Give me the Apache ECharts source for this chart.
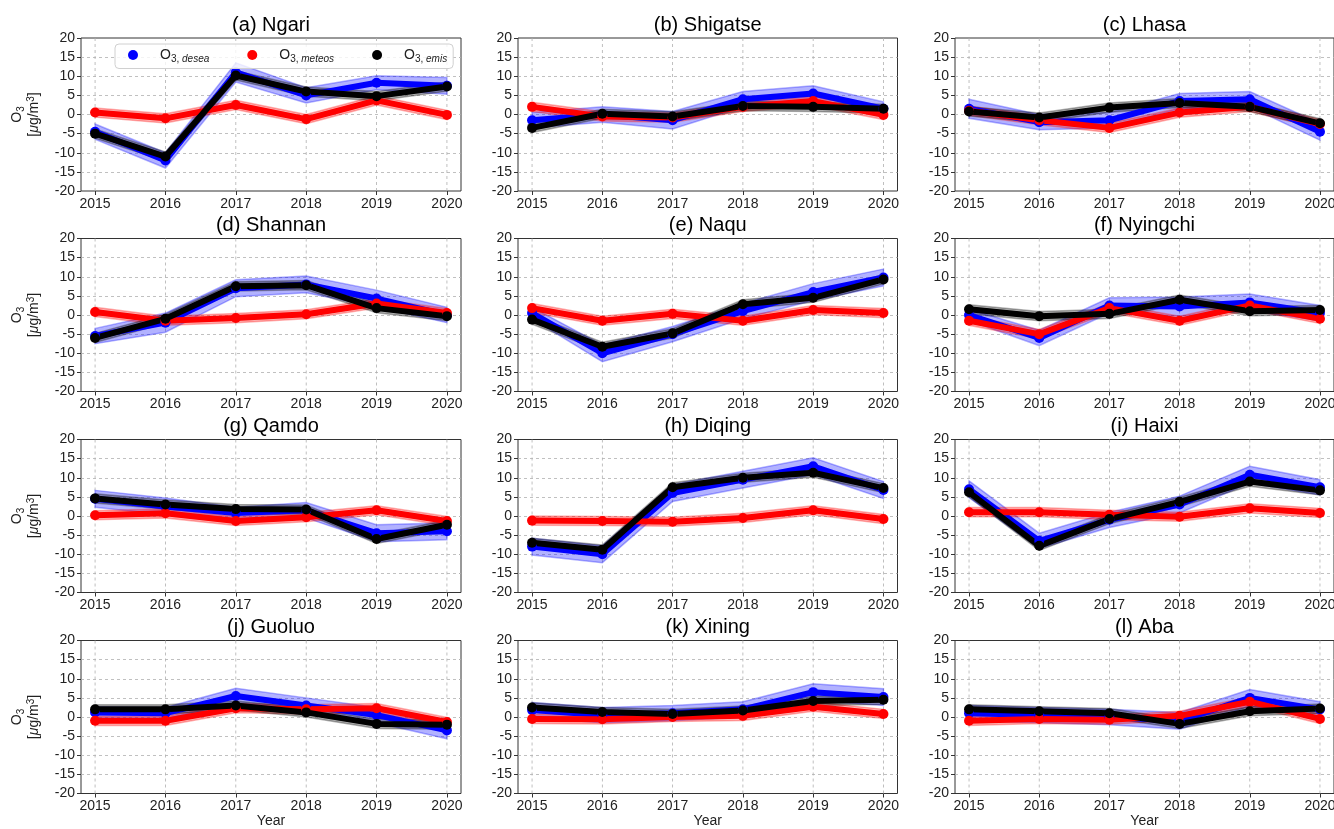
<!DOCTYPE html>
<html><head><meta charset="utf-8">
<script src="https://cdn.jsdelivr.net/npm/echarts@6/dist/echarts.min.js"></script>
<style>html,body{margin:0;padding:0;background:#fff}#c{width:1334px;height:829px}</style>
</head><body><div id="c"></div>
<script>
const YEARS = [2015, 2016, 2017, 2018, 2019, 2020];
const Y_MIN = -20, Y_MAX = 20, Y_STEP = 5;
const TITLES = ['(a) Ngari','(b) Shigatse','(c) Lhasa','(d) Shannan','(e) Naqu','(f) Nyingchi',
                '(g) Qamdo','(h) Diqing','(i) Haixi','(j) Guoluo','(k) Xining','(l) Aba'];
const SERIES_NAMES = ['desea', 'meteos', 'emis'];

// O3,desea (blue)
const DESEA = [
  [-4.5, -12, 11, 5, 8.3, 7.5],
  [-1.5, 0, -1.5, 4, 5.5, 1.5],
  [1.5, -2, -1.5, 3.5, 4, -4.5],
  [-5.5, -2, 7, 8, 4.3, 0],
  [0.5, -10, -5, 1, 6, 9.8],
  [0, -6, 2.5, 2.2, 3.3, 0.5],
  [4.5, 2.5, 0.8, 1.5, -4.5, -4],
  [-8, -10, 6, 9.5, 13, 6.8],
  [7, -6.5, -1, 3, 10.8, 7.5],
  [1.2, 1, 5.5, 3, 0.5, -3.5],
  [1.8, 0.5, 1, 2, 6.5, 5.2],
  [1, 0.5, 0, -1, 5, 2]
];
// O3,meteos (red)
const METEOS = [
  [0.5, -1, 2.5, -1.2, 3.7, -0.1],
  [2, -0.5, -0.8, 2, 3.5, -0.1],
  [1, -1.5, -3.5, 0.5, 2, -2.5],
  [0.8, -1.5, -0.8, 0.2, 3, 0.5],
  [1.8, -1.5, 0.3, -1.5, 1.3, 0.5],
  [-1.5, -5, 1.8, -1.5, 2.5, -1],
  [0.2, 0.7, -1.3, -0.3, 1.5, -1.3],
  [-1.2, -1.3, -1.5, -0.5, 1.5, -0.8],
  [1, 1, 0.3, -0.2, 2, 0.8],
  [-1, -1, 2.3, 2, 2.3, -1.3],
  [-0.5, -0.6, 0, 0.3, 2.7, 0.8],
  [-1, -0.5, -0.7, 0.3, 4, -0.5]
];
// O3,emis (black)
const EMIS = [
  [-5, -11, 10.2, 6, 4.8, 7.3],
  [-3.5, 0.2, -0.5, 2.2, 2, 1.5],
  [0.8, -0.8, 1.8, 3, 2, -2.3],
  [-6, -1, 7.5, 7.8, 1.8, -0.3],
  [-1.2, -8.3, -4.8, 2.8, 4.5, 9.3],
  [1.5, -0.3, 0.3, 4, 1, 1.3],
  [4.6, 3, 1.8, 1.7, -6, -2.3],
  [-7, -8.8, 7.5, 10, 11.3, 7.3],
  [6.2, -7.8, -0.8, 3.7, 9, 6.7],
  [2, 2, 3, 1.2, -1.8, -2],
  [2.5, 1.3, 0.8, 1.7, 4.2, 4.5],
  [2, 1.5, 1, -1.8, 1.5, 2.2]
];
// half-widths of the shaded bands
const DESEA_ERR = [
  [2, 2, 2.5, 2, 1.8, 2.2],
  [2, 2, 2.3, 2, 2, 1.8],
  [2.5, 2, 2, 2, 2, 2.2],
  [2, 2.5, 2.2, 2.2, 2.2, 2],
  [1.5, 2.2, 2, 2, 2.2, 2.2],
  [1.5, 2, 2, 2.5, 2.2, 2],
  [2.2, 2.2, 1.5, 2, 2.2, 2.2],
  [2.2, 2.2, 2.2, 2.2, 2.2, 2.2],
  [2.2, 2, 2, 2.2, 2.2, 2],
  [1.5, 1.5, 2, 2, 2, 2.2],
  [2, 2, 2, 2, 2.2, 2.2],
  [2, 2, 2, 2.2, 2.2, 2]
];
const METEOS_ERR = [
  [1.2, 1.2, 1.2, 1.2, 1.2, 1.2],
  [1.2, 1.2, 1.2, 1.2, 1.2, 1.2],
  [1.2, 1.2, 1.2, 1.2, 1.2, 1.2],
  [1.2, 1.2, 1.2, 1.2, 1.2, 1.2],
  [1.2, 1.2, 1.2, 1.2, 1.2, 1.2],
  [1.2, 1.2, 1.2, 1.2, 1.2, 1.2],
  [1.2, 1.2, 1.2, 1.2, 1.2, 1.2],
  [1.2, 1.2, 1.2, 1.2, 1.2, 1.2],
  [1.2, 1.2, 1.2, 1.2, 1.2, 1.2],
  [1.2, 1.2, 1.2, 1.2, 1.2, 1.2],
  [1.2, 1.2, 1.2, 1.2, 1.2, 1.2],
  [1.2, 1.2, 1.2, 1.2, 1.2, 1.2]
];
const EMIS_ERR = [
  [1.2, 1.2, 1.2, 1.2, 1.2, 1.2],
  [1.2, 1.2, 1.2, 1.2, 1.2, 1.2],
  [1.2, 1.2, 1.2, 1.2, 1.2, 1.2],
  [1.2, 1.2, 1.2, 1.2, 1.2, 1.2],
  [1.2, 1.2, 1.2, 1.2, 1.2, 1.2],
  [1.2, 1.2, 1.2, 1.2, 1.2, 1.2],
  [1.2, 1.2, 1.2, 1.2, 1.2, 1.2],
  [1.2, 1.2, 1.2, 1.2, 1.2, 1.2],
  [1.2, 1.2, 1.2, 1.2, 1.2, 1.2],
  [1.2, 1.2, 1.2, 1.2, 1.2, 1.2],
  [1.2, 1.2, 1.2, 1.2, 1.2, 1.2],
  [1.2, 1.2, 1.2, 1.2, 1.2, 1.2]
];

const FONT = '"Liberation Sans", Arial, Helvetica, sans-serif';
const COL_LEFT = [81, 518, 955];
const COL_W = [380, 379.5, 379];
const ROW_TOP = [38, 238.5, 439.5, 640.5];
const ROW_H = 153;
const COLORS = ['#0000ff', '#ff0000', '#000000'];
const BAND_FILL = ['rgba(0,0,255,0.3)', 'rgba(255,0,0,0.3)', 'rgba(0,0,0,0.3)'];
const BAND_EDGE = ['rgba(0,0,255,0.3)', 'rgba(255,0,0,0.3)', 'rgba(0,0,0,0.3)'];
const GRID_LINE = {color: '#b0b0b0', width: 0.8, dash: [3, 3]};

const chart = echarts.init(document.getElementById('c'), null, {renderer: 'canvas'});

const grids = [], xAxes = [], yAxes = [], titles = [], series = [];
const VALUES = [DESEA, METEOS, EMIS];
const ERRS = [DESEA_ERR, METEOS_ERR, EMIS_ERR];

function bandRenderer(k) {
  return function (params, api) {
    if (params.dataIndexInside !== 0) return null;
    const n = params.dataInsideLength || YEARS.length;
    const up = [], lo = [];
    for (let j = 0; j < n; j++) {
      up.push(api.coord([api.value(0, j), api.value(2, j)]));
      lo.push(api.coord([api.value(0, j), api.value(1, j)]));
    }
    return {
      type: 'polygon',
      shape: {points: up.concat(lo.reverse())},
      style: {fill: BAND_FILL[k], stroke: BAND_EDGE[k], lineWidth: 1.5}
    };
  };
}
function vGridRenderer(params, api) {
  const x = api.value(0);
  const p1 = api.coord([x, Y_MIN]);
  const p2 = api.coord([x, Y_MAX]);
  return {
    type: 'line',
    shape: {x1: p1[0], y1: p1[1], x2: p2[0], y2: p2[1]},
    style: {stroke: GRID_LINE.color, lineWidth: GRID_LINE.width, lineDash: GRID_LINE.dash}
  };
}

const Y_NAME = '{o|O}{sub|3}\n{t|[}{mu|μ}{t|g/m}{sup|3}{t|]}';
const Y_NAME_RICH = {
  o: {fontSize: 14, lineHeight: 17, fontFamily: FONT, color: '#222'},
  t: {fontSize: 14, lineHeight: 17, fontFamily: FONT, color: '#222'},
  mu: {fontSize: 14, lineHeight: 17, fontStyle: 'italic', fontFamily: FONT, color: '#222'},
  sub: {fontSize: 10, lineHeight: 10, verticalAlign: 'bottom', fontFamily: FONT, color: '#222'},
  sup: {fontSize: 10, lineHeight: 10, verticalAlign: 'top', fontFamily: FONT, color: '#222'}
};

for (let i = 0; i < 12; i++) {
  const r = Math.floor(i / 3), c = i % 3;
  grids.push({
    left: COL_LEFT[c], top: ROW_TOP[r], width: COL_W[c], height: ROW_H,
    show: true, borderColor: '#333', borderWidth: 1, backgroundColor: 'transparent',
    containLabel: false, outerBoundsMode: 'none'
  });
  xAxes.push({
    type: 'value', gridIndex: i, min: 2014.8, max: 2020.2, position: 'bottom',
    axisLine: {show: false, onZero: false},
    axisTick: {show: true, customValues: YEARS, length: 4, lineStyle: {color: '#333'}},
    axisLabel: {customValues: YEARS, fontSize: 14, color: '#222', margin: 6, fontFamily: FONT,
                formatter: v => String(v)},
    splitLine: {show: false},
    name: r === 3 ? 'Year' : '', nameLocation: 'middle', nameGap: 20,
    nameTextStyle: {fontSize: 14, color: '#222', fontFamily: FONT}
  });
  yAxes.push({
    type: 'value', gridIndex: i, min: Y_MIN, max: Y_MAX, interval: Y_STEP, position: 'left',
    axisLine: {show: false, onZero: false},
    axisTick: {show: true, length: 4, lineStyle: {color: '#333'}},
    axisLabel: {fontSize: 14, color: '#222', margin: 6, fontFamily: FONT},
    splitLine: {show: true, showMinLine: false, showMaxLine: false,
                lineStyle: {color: GRID_LINE.color, type: GRID_LINE.dash, width: GRID_LINE.width}},
    name: c === 0 ? Y_NAME : '', nameLocation: 'middle', nameGap: 38, nameRotate: 90,
    nameTextStyle: {fontSize: 14, color: '#222', fontFamily: FONT, rich: Y_NAME_RICH}
  });
  titles.push({
    text: TITLES[i], left: COL_LEFT[c] + COL_W[c] / 2, top: ROW_TOP[r] - 23, textAlign: 'center',
    padding: 0,
    textStyle: {fontSize: 20, fontWeight: 'normal', color: '#000', fontFamily: FONT}
  });
  series.push({
    type: 'custom', name: 'vgrid', xAxisIndex: i, yAxisIndex: i, z: 1, silent: true,
    renderItem: vGridRenderer, data: YEARS.map(x => [x])
  });
  for (let k = 0; k < 3; k++) {
    series.push({
      type: 'custom', name: SERIES_NAMES[k] + '_band', xAxisIndex: i, yAxisIndex: i, z: 2,
      renderItem: bandRenderer(k), clip: true, silent: true,
      data: YEARS.map((x, j) => [x, VALUES[k][i][j] - ERRS[k][i][j], VALUES[k][i][j] + ERRS[k][i][j]])
    });
  }
}
for (let i = 0; i < 12; i++) {
  for (let k = 0; k < 3; k++) {
    series.push({
      type: 'line', name: SERIES_NAMES[k], xAxisIndex: i, yAxisIndex: i, z: 3,
      data: YEARS.map((x, j) => [x, VALUES[k][i][j]]),
      symbol: 'circle', symbolSize: 10, showSymbol: true,
      lineStyle: {color: COLORS[k], width: 6},
      itemStyle: {color: COLORS[k]},
      silent: true
    });
  }
}

chart.setOption({
  animation: false,
  backgroundColor: '#fff',
  title: titles,
  grid: grids,
  xAxis: xAxes,
  yAxis: yAxes,
  legend: {
    data: SERIES_NAMES, selectedMode: false, icon: 'circle', orient: 'horizontal',
    left: 115, top: 44, padding: [4, 6, 4, 13], itemGap: 38,
    itemWidth: 20, itemHeight: 10, symbolKeepAspect: true,
    backgroundColor: 'rgba(255,255,255,0.8)', borderColor: '#d0d0d0', borderWidth: 1, borderRadius: 4,
    formatter: name => '{n|O}{s|3, }{si|' + name + '}',
    textStyle: {
      fontFamily: FONT, color: '#222',
      rich: {
        n: {fontSize: 14, lineHeight: 19, padding: [0, 0, 0, 12], fontFamily: FONT, color: '#222'},
        s: {fontSize: 10, lineHeight: 10, verticalAlign: 'bottom', fontFamily: FONT, color: '#222'},
        si: {fontSize: 10, lineHeight: 10, verticalAlign: 'bottom', fontStyle: 'italic', fontFamily: FONT, color: '#222'}
      }
    }
  },
  series: series
});
</script>
</body></html>
